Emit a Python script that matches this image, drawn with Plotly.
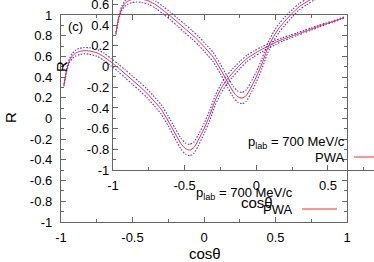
import plotly.graph_objects as go

# ---- data ----
cos_theta = [-0.98, -0.96, -0.94, -0.92, -0.90, -0.87, -0.84, -0.80, -0.75, -0.70,
             -0.65, -0.60, -0.55, -0.50, -0.45, -0.40, -0.35, -0.30, -0.25, -0.20,
             -0.16, -0.13, -0.10, -0.07, -0.04, 0.00, 0.04, 0.08, 0.12, 0.16,
             0.20, 0.25, 0.30, 0.35, 0.40, 0.45, 0.50, 0.55, 0.60, 0.65,
             0.70, 0.75, 0.80, 0.85, 0.90, 0.95, 0.98]
r_pwa = [0.32, 0.47, 0.56, 0.605, 0.63, 0.648, 0.655, 0.652, 0.635, 0.597,
         0.545, 0.49, 0.43, 0.37, 0.31, 0.245, 0.17, 0.09, -0.025, -0.15,
         -0.245, -0.29, -0.305, -0.28, -0.21, -0.10, 0.03, 0.18, 0.29, 0.375,
         0.44, 0.515, 0.58, 0.625, 0.665, 0.70, 0.735, 0.765, 0.79, 0.815,
         0.84, 0.865, 0.89, 0.915, 0.935, 0.96, 0.975]
r_upper = [0.33, 0.485, 0.58, 0.63, 0.658, 0.678, 0.685, 0.684, 0.668, 0.632,
           0.581, 0.527, 0.468, 0.41, 0.351, 0.287, 0.213, 0.135, 0.022, -0.10,
           -0.193, -0.236, -0.25, -0.225, -0.157, -0.05, 0.078, 0.226, 0.334, 0.417,
           0.48, 0.55, 0.61, 0.653, 0.69, 0.722, 0.755, 0.782, 0.805, 0.828,
           0.852, 0.876, 0.90, 0.923, 0.942, 0.966, 0.98]
r_lower = [0.31, 0.455, 0.54, 0.58, 0.602, 0.618, 0.625, 0.62, 0.602, 0.562,
           0.509, 0.453, 0.392, 0.33, 0.269, 0.203, 0.127, 0.045, -0.072, -0.20,
           -0.297, -0.344, -0.36, -0.335, -0.263, -0.15, -0.018, 0.134, 0.246, 0.333,
           0.40, 0.48, 0.55, 0.597, 0.64, 0.678, 0.715, 0.748, 0.775, 0.802,
           0.828, 0.854, 0.88, 0.907, 0.928, 0.954, 0.97]

x_tickvals = [-1, -0.5, 0, 0.5, 1]
x_ticktext = ["-1", "-0.5", "0", "0.5", "1"]
y_tickvals = [-1, -0.8, -0.6, -0.4, -0.2, 0, 0.2, 0.4, 0.6, 0.8, 1]
y_ticktext = ["-1", "-0.8", "-0.6", "-0.4", "-0.2", "0", "0.2", "0.4", "0.6", "0.8", "1"]

panel_label = "(c)"
legend_title = "p<sub>lab</sub> = 700 MeV/c"
legend_pwa = "PWA"

W, H = 374, 262
FONT = "Liberation Sans, Arial, sans-serif"
RED = "#ff2a2a"
BLUE = "#1a1aff"
AXC = "#666666"


def px(xp):
    return xp / W


def py(yp):
    return 1 - yp / H


fig = go.Figure()
for xa, ya in (("x", "y"), ("x2", "y2")):
    for band in (r_upper, r_lower):
        fig.add_trace(go.Scatter(x=cos_theta, y=band, mode="lines", xaxis=xa, yaxis=ya,
                                 line=dict(color=BLUE, width=1.1, dash="1.5px,1.5px",
                                           shape="spline", smoothing=0.6),
                                 opacity=0.85, showlegend=False))
    fig.add_trace(go.Scatter(x=cos_theta, y=r_pwa, mode="lines", xaxis=xa, yaxis=ya,
                             line=dict(color=RED, width=1, shape="spline", smoothing=0.6),
                             showlegend=False))

common_x = dict(tickmode="array", tickvals=x_tickvals, ticktext=x_ticktext,
                ticks="inside", ticklen=5, tickcolor=AXC, tickwidth=1,
                showline=True, linecolor=AXC, linewidth=1.3,
                showgrid=False, zeroline=False, automargin=False,
                ticklabeloverflow="allow",
                tickfont=dict(family=FONT, size=13, color="#000"),
                minor=dict(tickmode="linear", tick0=-1, dtick=0.25, ticks="inside",
                           ticklen=3, tickcolor=AXC, showgrid=False))
common_y = dict(tickmode="array", tickvals=y_tickvals, ticktext=y_ticktext,
                ticks="inside", ticklen=5, tickcolor=AXC, tickwidth=1,
                showline=True, linecolor=AXC, linewidth=1.3,
                showgrid=False, zeroline=False, automargin=False,
                ticklabeloverflow="allow",
                tickfont=dict(family=FONT, size=13, color="#000"),
                minor=dict(tickmode="linear", tick0=-1, dtick=0.1, ticks="inside",
                           ticklen=3, tickcolor=AXC, showgrid=False))

fig.update_layout(
    template="none",
    width=W, height=H,
    margin=dict(l=0, r=0, t=0, b=0, pad=0),
    paper_bgcolor="white", plot_bgcolor="rgba(0,0,0,0)",
    showlegend=False,
    xaxis=dict(common_x, domain=[px(61), px(347)], range=[-1, 1], anchor="y",
               mirror="ticks", ticklabelstandoff=3),
    yaxis=dict(common_y, domain=[py(222), py(15)], range=[-1, 1], anchor="x",
               mirror="ticks", ticklabelstandoff=5),
    xaxis2=dict(common_x, domain=[px(113), 1], range=[-1, -1 + (W - 113) / 143.3],
                anchor="y2", mirror=False, ticklabelstandoff=3),
    yaxis2=dict(common_y, domain=[py(170), 1], range=[-1, -1 + 170 / 103.4],
                anchor="x2", mirror=False, ticklabelstandoff=0),
)

ann = []


def text(s, xp, yp, size=13, xanchor="center", angle=0):
    ann.append(dict(text=s, x=px(xp), y=py(yp), xref="paper", yref="paper",
                    xanchor=xanchor, yanchor="middle", showarrow=False, textangle=angle,
                    font=dict(family=FONT, size=size, color="#000")))


# panel A labels
text("R", 10, 118, size=15, angle=-90)
text("cosθ", 205, 253, size=15)
text(panel_label, 75, 26)
text(legend_title, 295, 193, xanchor="right")
text(legend_pwa, 294, 209, xanchor="right")
# panel B labels (shifted copy)
text("R", 61, 67, size=15, angle=-90)
text("cosθ", 257, 202, size=15)
text(legend_title, 347, 142, xanchor="right")
text(legend_pwa, 346, 157, xanchor="right")

fig.update_layout(annotations=ann, shapes=[
    dict(type="line", xref="paper", yref="paper", x0=px(302), x1=px(337),
         y0=py(209), y1=py(209), line=dict(color=RED, width=1)),
    dict(type="line", xref="paper", yref="paper", x0=px(354), x1=1,
         y0=py(157), y1=py(157), line=dict(color=RED, width=1)),
])

fig.write_html("out.html",
               config={"displayModeBar": False},
               post_script="document.body.style.margin='0px';"
                           "document.body.style.overflow='hidden';")
